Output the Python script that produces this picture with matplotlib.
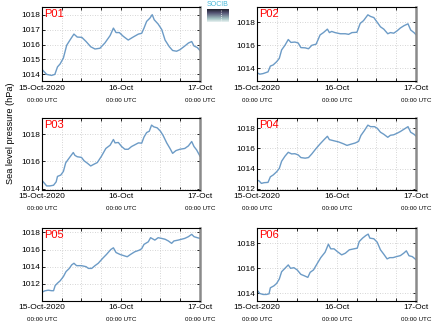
import numpy as np
import pandas as pd
import matplotlib
matplotlib.use('Agg')
import matplotlib.pyplot as plt
import matplotlib.dates as mdates
import matplotlib.transforms as mtransforms

plt.rcParams['font.family'] = ['Liberation Sans', 'DejaVu Sans']

# datos: horas desde 15-Oct-2020 00:00 UTC y presion (hPa)
h01 = [0, 1.4, 2.9, 3.9, 4.7, 5.5, 6.5, 7.5, 8.5, 9.7, 10.7, 12.1, 13.4, 14.8, 16.1, 17.6,
       19.1, 20.7, 21.7, 22.5, 23.5, 24.7, 26.2, 27.7, 29.3, 30.3, 31.0, 31.8, 32.8, 33.5,
       34.1, 35.3, 36.4, 37.4, 38.7, 39.7, 40.9, 41.9, 43.4, 44.5, 45.5, 46.2, 47.2, 48]
p01 = [1014.33, 1014.0, 1013.93, 1014.0, 1014.5, 1014.7, 1015.1, 1015.95, 1016.3, 1016.7,
       1016.5, 1016.48, 1016.2, 1015.85, 1015.7, 1015.75, 1016.1, 1016.6, 1017.1, 1016.8,
       1016.8, 1016.55, 1016.3, 1016.5, 1016.7, 1016.75, 1017.1, 1017.55, 1017.77, 1018.0,
       1017.66, 1017.37, 1017.0, 1016.3, 1015.85, 1015.6, 1015.55, 1015.65, 1015.9, 1016.1,
       1016.2, 1015.9, 1015.8, 1015.6]

h02 = [0, 0.8, 1.8, 3.3, 4.0, 4.85, 5.9, 6.7, 7.4, 8.4, 9.4, 10.2, 11.4, 12.4, 13.2, 14.5,
       15.5, 16.5, 17.8, 19.0, 20.0, 21.2, 21.8, 22.5, 23.5, 25.1, 26.6, 27.6, 28.6, 30.1,
       31.1, 32.1, 33.4, 34.2, 35.2, 36.2, 37.2, 38.2, 39.4, 40.2, 41.2, 42.2, 43.2, 44.3,
       45.5, 46.3, 47.3, 48]
p02 = [1013.62, 1013.5, 1013.55, 1013.7, 1014.2, 1014.3, 1014.58, 1014.87, 1015.6, 1016.0,
       1016.5, 1016.25, 1016.28, 1016.2, 1015.8, 1015.78, 1015.7, 1016.0, 1016.1, 1016.9,
       1017.1, 1017.4, 1017.1, 1017.2, 1017.1, 1017.0, 1017.0, 1016.95, 1017.1, 1017.13,
       1017.9, 1018.14, 1018.64, 1018.5, 1018.4, 1018.0, 1017.6, 1017.4, 1017.0, 1017.1,
       1017.05, 1017.25, 1017.5, 1017.7, 1017.86, 1017.33, 1017.1, 1016.9]

h03 = [0, 0.9, 1.4, 2.4, 3.5, 4.3, 4.7, 5.7, 6.5, 7.2, 8.0, 8.7, 9.5, 10.0, 10.7, 12.0, 12.8,
       13.8, 14.8, 15.8, 16.8, 18.1, 19.4, 20.7, 21.7, 22.2, 23.2, 24.2, 25.2, 26.2, 27.2,
       28.3, 29.3, 30.3, 31.0, 31.8, 32.6, 33.3, 34.0, 35.0, 36.0, 36.8, 37.9, 38.9, 39.7,
       40.7, 41.9, 43.4, 44.5, 45.5, 46.2, 47.0, 48]
p03 = [1014.6, 1014.35, 1014.2, 1014.2, 1014.25, 1014.5, 1014.9, 1015.0, 1015.27, 1015.9,
       1016.17, 1016.4, 1016.66, 1016.45, 1016.35, 1016.3, 1016.05, 1015.87, 1015.67, 1015.8,
       1015.92, 1016.4, 1016.96, 1017.2, 1017.62, 1017.37, 1017.4, 1017.1, 1016.9, 1016.9,
       1017.1, 1017.24, 1017.37, 1017.35, 1017.8, 1018.13, 1018.23, 1018.68, 1018.55, 1018.48,
       1018.23, 1017.92, 1017.37, 1016.96, 1016.6, 1016.8, 1016.9, 1016.96, 1017.15, 1017.47,
       1017.1, 1016.85, 1016.4]

h04 = [0, 0.6, 1.3, 2.1, 3.3, 4.0, 4.85, 5.9, 6.7, 7.4, 8.4, 9.4, 10.4, 11.4, 12.4, 13.2,
       14.5, 15.5, 16.5, 17.8, 19.0, 20.2, 21.2, 21.8, 23.0, 24.6, 26.1, 27.1, 28.1, 29.6,
       30.6, 31.3, 32.3, 33.4, 34.2, 35.4, 36.2, 37.2, 38.2, 39.4, 40.2, 41.2, 42.2, 43.2,
       44.3, 45.5, 46.3, 47.3, 48]
p04 = [1012.87, 1012.8, 1012.55, 1012.62, 1012.65, 1013.2, 1013.38, 1013.7, 1014.03, 1014.74,
       1015.23, 1015.62, 1015.46, 1015.48, 1015.36, 1015.1, 1015.04, 1015.1, 1015.46, 1016.0,
       1016.45, 1016.87, 1017.2, 1016.87, 1016.77, 1016.64, 1016.45, 1016.3, 1016.4, 1016.54,
       1016.7, 1017.28, 1017.74, 1018.3, 1018.15, 1018.15, 1018.0, 1017.6, 1017.4, 1017.1,
       1017.3, 1017.35, 1017.5, 1017.67, 1017.9, 1018.15, 1017.6, 1017.4, 1017.2]

h05 = [0, 0.9, 1.9, 2.9, 3.5, 4.0, 4.7, 5.5, 6.5, 7.3, 8.3, 9.0, 9.7, 10.5, 12.0, 13.4,
       14.1, 15.1, 16.1, 17.1, 18.4, 19.6, 20.9, 21.7, 22.5, 23.7, 24.9, 25.9, 26.9, 28.2,
       29.6, 30.3, 31.0, 32.3, 33.0, 33.6, 34.3, 35.3, 36.3, 37.4, 38.4, 39.4, 40.1, 41.4,
       42.4, 43.4, 44.5, 45.5, 46.2, 47.2, 48]
p05 = [1011.03, 1011.19, 1011.26, 1011.2, 1011.2, 1011.8, 1012.08, 1012.35, 1012.85, 1013.43,
       1013.8, 1014.2, 1014.4, 1014.12, 1014.12, 1014.0, 1013.8, 1013.8, 1014.12, 1014.4,
       1014.96, 1015.43, 1016.0, 1016.2, 1015.65, 1015.43, 1015.28, 1015.16, 1015.43, 1015.74,
       1015.93, 1016.1, 1016.6, 1016.9, 1017.38, 1017.25, 1017.1, 1017.38, 1017.3, 1017.2,
       1017.0, 1016.72, 1017.0, 1017.1, 1017.2, 1017.3, 1017.5, 1017.77, 1017.5, 1017.38,
       1017.3]

h06 = [0, 0.8, 1.8, 2.8, 3.6, 4.0, 5.1, 5.9, 6.7, 7.4, 8.4, 9.4, 10.1, 11.1, 12.1, 13.2,
       14.2, 15.3, 16.0, 17.0, 18.0, 19.2, 20.5, 21.5, 22.2, 23.2, 24.2, 25.5, 26.6, 27.8,
       29.2, 30.2, 30.8, 31.8, 32.8, 33.5, 34.0, 35.2, 36.2, 37.2, 38.2, 39.2, 40.0, 41.0,
       42.0, 43.2, 44.2, 45.0, 45.8, 46.8, 48]
p06 = [1014.27, 1014.0, 1013.92, 1013.92, 1013.97, 1014.45, 1014.61, 1014.8, 1015.15, 1015.73,
       1016.0, 1016.27, 1016.0, 1016.05, 1015.87, 1015.52, 1015.41, 1015.28, 1015.68, 1015.87,
       1016.32, 1016.85, 1017.28, 1017.92, 1017.55, 1017.55, 1017.33, 1017.07, 1017.2, 1017.47,
       1017.55, 1017.6, 1018.13, 1018.4, 1018.61, 1018.72, 1018.4, 1018.35, 1018.08, 1017.47,
       1017.12, 1016.75, 1016.85, 1016.85, 1016.93, 1017.01, 1017.2, 1017.39, 1017.0, 1016.93,
       1016.67]

nombres = ['P01', 'P02', 'P03', 'P04', 'P05', 'P06']
horas = [h01, h02, h03, h04, h05, h06]
presion = [p01, p02, p03, p04, p05, p06]
ylims = [(1013.55, 1018.5), (1012.9, 1019.3), (1013.9, 1019.2),
         (1011.9, 1019.0), (1010.0, 1018.5), (1013.4, 1019.2)]
yticks = [[1014, 1015, 1016, 1017, 1018], [1014, 1016, 1018], [1014, 1016, 1018],
          [1012, 1014, 1016, 1018], [1012, 1014, 1016, 1018], [1014, 1016, 1018]]
xticklabels = ['15-Oct-2020', '16-Oct', '17-Oct']

t0 = pd.Timestamp('2020-10-15 00:00')
t1 = pd.Timestamp('2020-10-17 00:00')

fig = plt.figure(figsize=(4.35, 3.27), dpi=100)

# posiciones de los ejes (fraccion de figura)
lefts = [0.0966, 0.591]
widths = [0.363, 0.366]
bottoms = [0.752, 0.419, 0.0795]
heights = [0.226, 0.22, 0.223]

color_linea = '#6c9bc6'

for i in range(6):
    fila, col = i // 2, i % 2
    ax = fig.add_axes([lefts[col], bottoms[fila], widths[col], heights[fila]])
    t = t0 + pd.to_timedelta(horas[i], unit='h')
    ax.plot(t, presion[i], color=color_linea, lw=1.0)
    ax.set_xlim(t0, t1)
    ax.set_ylim(*ylims[i])
    ax.set_yticks(yticks[i])
    ax.tick_params(axis='y', labelsize=6, direction='in', length=2, width=0.6, pad=1.5,
                   right=True)
    ax.xaxis.set_major_locator(mdates.DayLocator())
    ax.xaxis.set_minor_locator(mdates.HourLocator(byhour=[6, 12, 18]))
    ax.set_xticks([t0, t0 + pd.Timedelta(hours=24), t1])
    ax.set_xticklabels(xticklabels)
    ax.tick_params(axis='x', which='both', labelsize=6, direction='in', length=2,
                   width=0.6, pad=2.5, top=True)
    ax.grid(True, which='both', axis='x', color='#c8c8c8', ls=(0, (1, 2)), lw=0.6)
    ax.grid(True, which='major', axis='y', color='#c8c8c8', ls=(0, (1, 2)), lw=0.6)
    for s in ['left', 'bottom', 'top']:
        ax.spines[s].set_linewidth(0.8)
    ax.spines['right'].set_color('#8a8a8a')
    ax.spines['right'].set_linewidth(1.8)
    trans = mtransforms.blended_transform_factory(ax.transData, ax.transAxes)
    for k in range(3):
        xt = mdates.date2num(t0 + pd.Timedelta(hours=24 * k))
        ax.text(xt, -0.26, '00:00 UTC', transform=trans, ha='center', va='center',
                fontsize=4.5)
    ax.text(0.015, 0.97, nombres[i], transform=ax.transAxes, ha='left', va='top',
            color='red', fontsize=8)

fig.text(0.023, 0.593, 'Sea level pressure (hPa)', rotation=90, ha='center', va='center',
         fontsize=6.6)

# logo
axl = fig.add_axes([207 / 435, 1 - 22 / 327, 22 / 435, 13 / 327])
grad = np.linspace(0, 1, 20).reshape(-1, 1)
axl.imshow(grad, cmap='bone', aspect='auto', vmin=-0.2, vmax=1.1,
           extent=(0, 1, 1, 0))
axl.axvline(0.65, color='white', ls=':', lw=0.6)
axl.set_xlim(0, 1)
axl.set_axis_off()
fig.text(218 / 435, 1 - 5 / 327, 'SOCIB', ha='center', va='center', fontsize=5,
         color='#48b8d8')

fig.savefig('out.png', dpi=100)
